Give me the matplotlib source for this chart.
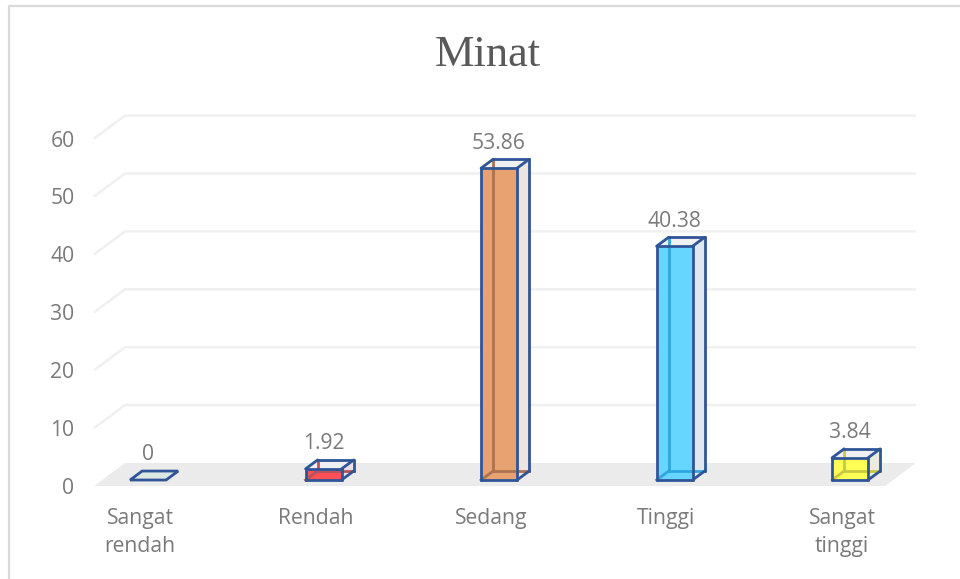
import matplotlib
matplotlib.use('Agg')
import matplotlib.pyplot as plt
from matplotlib.lines import Line2D
from matplotlib.patches import Polygon

# data
kategori = ['Sangat\nrendah', 'Rendah', 'Sedang', 'Tinggi', 'Sangat\ntinggi']
nilai = [0, 1.92, 53.86, 40.38, 3.84]
label_nilai = ['0', '1.92', '53.86', '40.38', '3.84']
y_ticks = [0, 10, 20, 30, 40, 50, 60]
warna_depan = ['#dce8e4', '#ff5058', '#e8a272', '#66d6ff', '#ffff55']
warna_dalam = ['#dce8e4', '#b5545c', '#ab7350', '#2ea6e0', '#c9c940']
warna_sisi = ['#dce8e4', '#ecdfe2', '#ebe4df', '#dfe8f0', '#ecebdc']

W, H = 960, 579
abu = '#7a7a7a'
biru = '#2f5597'
plt.rcParams['font.family'] = ['Open Sans', 'DejaVu Sans']

fig = plt.figure(figsize=(W / 100, H / 100), dpi=100)
ax = fig.add_axes([94 / W, (H - 486) / H, (915 - 94) / W, (486 - 116) / H])
ax.patch.set_alpha(0)

# skala: 175.5 px per kategori, 5.79 px per satuan
ax.set_xlim((94 - 140) / 175.5, (915 - 140) / 175.5)
ax.set_ylim(0, 370 / 5.79)
for s in ax.spines.values():
    s.set_visible(False)

DX = 31 / 175.5
DY = 23 / 5.79


def p(x, y, d):
    # titik pada kedalaman d (0 depan, 1 belakang)
    return (x + d * DX, y + d * DY)


x0, x1 = ax.get_xlim()[0], (885 - 140) / 175.5

# lantai dan grid
ax.add_patch(Polygon([p(x0, 0, 0), p(x1, 0, 0), p(x1, 0, 1), p(x0, 0, 1)],
                     fc='#ebebeb', ec='none', zorder=1))
for t in y_ticks[1:]:
    a, b, c = p(x0, t, 0), p(x0, t, 1), p(x1, t, 1)
    ax.plot([a[0], b[0], c[0]], [a[1], b[1], c[1]], color='#f0f0f0', lw=1.8,
            zorder=1, solid_capstyle='butt', clip_on=False)

# batang 3D
hw = 18 / 175.5
d1, d2 = 0.26, 0.65
ln = dict(color=biru, lw=2.0, solid_joinstyle='round', solid_capstyle='round')
for i, v in enumerate(nilai):
    xl, xr = i - hw, i + hw
    if v == 0:
        ax.add_patch(Polygon([p(xl, 0, d1), p(xr, 0, d1), p(xr, 0, d2), p(xl, 0, d2)],
                             fc=warna_depan[i], ec=biru, lw=2, zorder=5))
    else:
        # dinding belakang, samping, atas
        ax.add_patch(Polygon([p(xl, 0, d2), p(xr, 0, d2), p(xr, v, d2), p(xl, v, d2)],
                             fc='#f4f2f0', ec='none', zorder=3))
        ax.add_patch(Polygon([p(xr, 0, d1), p(xr, 0, d2), p(xr, v, d2), p(xr, v, d1)],
                             fc=warna_sisi[i], ec='none', zorder=3))
        ax.add_patch(Polygon([p(xl, v, d1), p(xr, v, d1), p(xr, v, d2), p(xl, v, d2)],
                             fc='#eef0f2', ec='none', zorder=3))
        # muka depan
        ax.bar(i + d1 * DX, v, width=2 * hw, bottom=d1 * DY, color=warna_depan[i],
               edgecolor='none', zorder=4)
        # garis dalam yang tembus terlihat
        for a, b in [((xl, 0, d2), (xl, v, d2)), ((xl, 0, d1), (xl, 0, d2)),
                     ((xl, 0, d2), (xr, 0, d2))]:
            pa, pb = p(*a), p(*b)
            ax.plot([pa[0], pb[0]], [pa[1], pb[1]], color=warna_dalam[i], lw=2.0, zorder=4.5)
        # rangka
        for a, b in [((xl, 0, d1), (xr, 0, d1)), ((xr, 0, d1), (xr, v, d1)),
                     ((xr, v, d1), (xl, v, d1)), ((xl, v, d1), (xl, 0, d1)),
                     ((xl, v, d1), (xl, v, d2)), ((xr, v, d1), (xr, v, d2)),
                     ((xl, v, d2), (xr, v, d2)), ((xr, v, d2), (xr, 0, d2)),
                     ((xr, 0, d2), (xr, 0, d1))]:
            pa, pb = p(*a), p(*b)
            ax.plot([pa[0], pb[0]], [pa[1], pb[1]], zorder=6, **ln)
    # label nilai
    tx, ty = p(i, v, d2)
    ax.annotate(label_nilai[i], (i + 0.045, ty), xytext=(0, 4), textcoords='offset points',
                ha='center', va='bottom', fontsize=15.2, color=abu, zorder=7)

ax.set_xticks(range(len(kategori)), kategori, linespacing=1.42)
ax.set_yticks(y_ticks)
ax.tick_params(axis='both', length=0, labelcolor=abu, labelsize=15.2)
ax.tick_params(axis='y', pad=14)
ax.tick_params(axis='x', pad=16)

# judul
fig.text(488 / W, 1 - 55 / H, 'Minat', ha='center', va='center',
         family='Liberation Serif', fontsize=32, color='#595959')

# bingkai
fig.add_artist(Line2D([8.5 / W, 8.5 / W, 1], [0, 1 - 6 / H, 1 - 6 / H], color='#d9d9d9', lw=1.6))

fig.savefig('out.png', dpi=100)
